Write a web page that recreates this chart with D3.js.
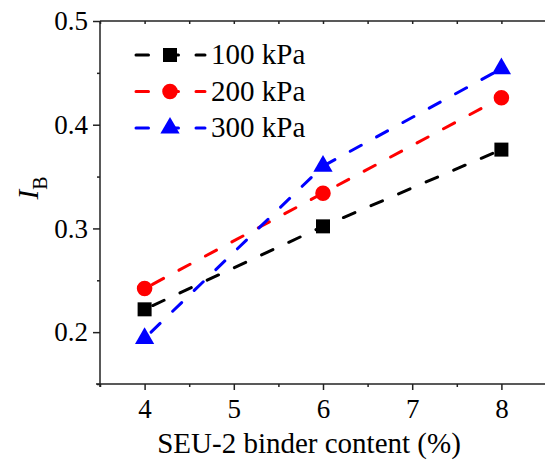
<!DOCTYPE html>
<html>
<head>
<meta charset="utf-8">
<script src="https://cdn.jsdelivr.net/npm/d3@7"></script>
<style>
  body { margin: 0; background: #fff; }
  .axis path, .axis line { stroke: #222; stroke-width: 1.5; }
</style>
</head>
<body>
<script>
// binder content (%)
const contents = [4, 6, 8];
const seriesNames = ["100 kPa", "200 kPa", "300 kPa"];
const ib100 = [0.222, 0.302, 0.376];
const ib200 = [0.242, 0.334, 0.426];
const ib300 = [0.194, 0.360, 0.454];
const xTicks = [4, 5, 6, 7, 8];
const yTicks = [0.2, 0.3, 0.4, 0.5];

const width = 545, height = 461;
const serif = '"Liberation Serif"';
const colors = ["#000000", "#ff0000", "#0000ff"];
const symbols = [d3.symbolSquare, d3.symbolCircle, d3.symbolTriangle];
const symSizes = [196, 190, 160];

const svg = d3.select("body").append("svg")
    .attr("width", width)
    .attr("height", height);

const x = d3.scaleLinear().domain([3.5, 8.5]).range([100, 546]);
const y = d3.scaleLinear().domain([0.15, 0.5]).range([384, 21]);

// axes
let minorX = d3.range(3.5, 8.6, 0.5).filter(d => !xTicks.includes(d));
let minorY = [0.15, 0.25, 0.35, 0.45];

svg.append("g").attr("class", "axis")
    .attr("transform", `translate(0,${y(0.15)})`)
    .call(d3.axisBottom(x).tickValues(minorX).tickSize(3).tickFormat(""))
    .call(g => g.select(".domain").remove());
svg.append("g").attr("class", "axis")
    .attr("transform", `translate(0,${y(0.15)})`)
    .call(d3.axisBottom(x).tickValues(xTicks).tickSize(6).tickSizeOuter(0).tickPadding(9).tickFormat(d3.format("d")))
    .call(g => g.select(".domain").attr("d", `M96,0H546`));

svg.append("g").attr("class", "axis")
    .attr("transform", `translate(${x(3.5)},0)`)
    .call(d3.axisLeft(y).tickValues(minorY).tickSize(3).tickFormat(""))
    .call(g => g.select(".domain").remove());
svg.append("g").attr("class", "axis")
    .attr("transform", `translate(${x(3.5)},0)`)
    .call(d3.axisLeft(y).tickValues(yTicks).tickSize(7).tickSizeOuter(0).tickPadding(5).tickFormat(d3.format(".1f")))
    .call(g => g.select(".domain").attr("d", `M0,${y(0.5)}V${y(0.15) + 3}`));

// top frame with inward ticks
svg.append("g").attr("class", "axis")
    .attr("transform", `translate(0,${y(0.5)})`)
    .call(d3.axisTop(x).tickValues(d3.range(3.5, 8.6, 0.5)).tickSize(-3).tickSizeOuter(0).tickFormat(""))
    .call(g => g.select(".domain").attr("d", `M${x(3.5)},0H546`));

svg.selectAll(".axis text")
    .style("font-family", serif)
    .style("font-size", "27px")
    .attr("fill", "#000");

// axis titles
svg.append("text")
    .attr("x", 309)
    .attr("y", 453)
    .attr("text-anchor", "middle")
    .style("font-family", serif)
    .style("font-size", "29px")
    .text("SEU-2 binder content (%)");

let yLabel = svg.append("text")
    .attr("transform", `translate(38,188) rotate(-90)`)
    .attr("text-anchor", "middle")
    .style("font-family", serif)
    .style("font-size", "29px");
yLabel.append("tspan").style("font-style", "italic").text("I");
yLabel.append("tspan").attr("dy", 9).style("font-size", "20px").text("B");

// series
const allSeries = [ib100, ib200, ib300].map((vals, i) => ({
    name: seriesNames[i],
    color: colors[i],
    symbol: symbols[i],
    size: symSizes[i],
    points: contents.map((c, j) => ({x: c, y: vals[j]}))
}));

const line = d3.line().x(d => x(d.x)).y(d => y(d.y));

svg.selectAll(".series-line").data(allSeries).enter().append("path")
    .attr("class", "series-line")
    .attr("d", d => line(d.points))
    .attr("fill", "none")
    .attr("stroke", d => d.color)
    .attr("stroke-width", 3)
    .attr("stroke-linecap", "round")
    .attr("stroke-dasharray", "12.5,17.5")
    .attr("stroke-dashoffset", -9);

allSeries.forEach(s => {
    svg.selectAll(null).data(s.points).enter().append("path")
        .attr("transform", d => `translate(${x(d.x)},${y(d.y)})`)
        .attr("d", d3.symbol().type(s.symbol).size(s.size))
        .attr("fill", s.color);
});

// legend
const legend = svg.append("g").attr("class", "legend");
const rows = legend.selectAll("g").data(allSeries).enter().append("g")
    .attr("transform", (d, i) => `translate(0,${55 + i * 36.5})`);
rows.append("line")
    .attr("x1", 136).attr("x2", 205)
    .attr("stroke", d => d.color)
    .attr("stroke-width", 3)
    .attr("stroke-linecap", "round")
    .attr("stroke-dasharray", "12.5,17.5");
rows.append("path")
    .attr("transform", "translate(170,0)")
    .attr("d", d => d3.symbol().type(d.symbol).size(d.size)())
    .attr("fill", d => d.color);
rows.append("text")
    .attr("x", 211)
    .attr("y", 9)
    .style("font-family", serif)
    .style("font-size", "29px")
    .text(d => d.name);
</script>
</body>
</html>
